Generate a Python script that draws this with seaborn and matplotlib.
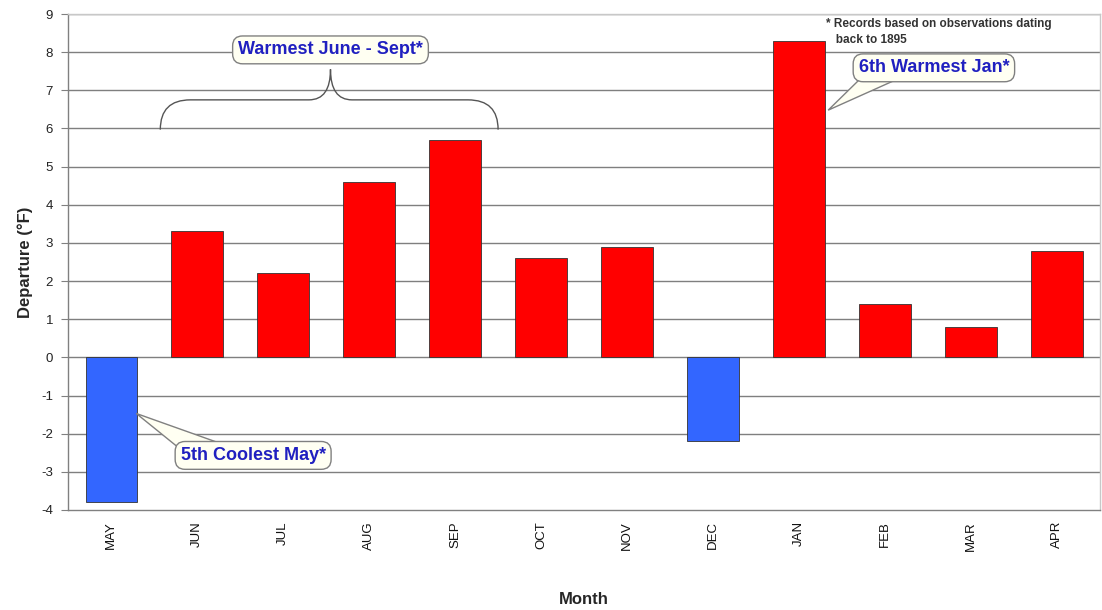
import numpy as np
import pandas as pd
import seaborn as sns
from matplotlib import pyplot as plt
from matplotlib.path import Path
from matplotlib.patches import PathPatch, Polygon

sns.set_style('white')
plt.rcParams['font.family'] = ['Liberation Sans', 'DejaVu Sans']

months = ['MAY', 'JUN', 'JUL', 'AUG', 'SEP', 'OCT', 'NOV', 'DEC', 'JAN', 'FEB', 'MAR', 'APR']
departure = [-3.8, 3.3, 2.2, 4.6, 5.7, 2.6, 2.9, -2.2, 8.3, 1.4, 0.8, 2.8]
yticks = list(range(-4, 10))

df = pd.DataFrame({'Month': months, 'Departure': departure})
barColors = {m: ('#FF0000' if v > 0 else '#3366FF') for m, v in zip(months, departure)}

fig = plt.figure(figsize=(11.02, 6.1), dpi=100)
ax = fig.add_axes([0.062, 0.164, 0.936, 0.813])

for y in yticks[1:]:
    ax.axhline(y, color='#7f7f7f', lw=1.0, zorder=0)

sns.barplot(data=df, x='Month', y='Departure', hue='Month', palette=barColors, saturation=1,
            legend=False, width=0.6, edgecolor='#333333', linewidth=0.6, ax=ax, zorder=2)

ax.set_xlim(-0.5, len(months) - 0.5)
ax.set_ylim(-4, 9)
ax.set_yticks(yticks)
ax.set_yticklabels([str(t) for t in yticks], fontsize=9.5, color='#222222')
ax.tick_params(axis='y', direction='out', length=5, width=0.8, color='#808080', left=True, pad=6)
ax.tick_params(axis='x', length=0, pad=8)
plt.setp(ax.get_xticklabels(), rotation=90, fontsize=9.5, color='#111111')

for side in ['left', 'bottom']:
    ax.spines[side].set_color('#808080')
    ax.spines[side].set_linewidth(1.0)
for side in ['top', 'right']:
    ax.spines[side].set_color('#c8c8c8')
    ax.spines[side].set_linewidth(1.0)

ax.set_ylabel('Departure (°F)', fontsize=12, fontweight='bold', labelpad=6)
ax.set_xlabel('Month', fontsize=12, fontweight='bold', labelpad=30)

# brace over Jun - Sep
x0, x1, xm, yb, yh, yp = 0.57, 4.5, 2.55, 5.97, 6.75, 7.55
verts = [(x0, yb), (x0, yh), (x0 + 0.35, yh), (xm - 0.25, yh),
         (xm, yh), (xm, yp),
         (xm, yh), (xm + 0.25, yh),
         (x1 - 0.35, yh), (x1, yh), (x1, yb)]
codes = [Path.MOVETO, Path.CURVE3, Path.CURVE3, Path.LINETO,
         Path.CURVE3, Path.CURVE3,
         Path.CURVE3, Path.CURVE3,
         Path.LINETO, Path.CURVE3, Path.CURVE3]
ax.add_patch(PathPatch(Path(verts, codes), fill=False, edgecolor='#555555', lw=1.0, zorder=3))

boxFill = '#FFFFF2'
boxStyle = dict(boxstyle='round,pad=0.3,rounding_size=0.55', fc=boxFill, ec='#808080', lw=1.0)
textStyle = dict(fontsize=13, fontweight='bold', color='#2020C0', ha='center', va='center', zorder=5)

ax.text(xm, 8.06, 'Warmest June - Sept*', bbox=boxStyle, **textStyle)

# callout wedges (drawn under the boxes)
ax.add_patch(Polygon([(8.78, 7.45), (8.34, 6.48), (9.3, 7.45)], closed=True,
                     fc=boxFill, ec='#808080', lw=1.0, zorder=4))
ax.text(9.57, 7.59, '6th Warmest Jan*', bbox=boxStyle, **textStyle)

ax.add_patch(Polygon([(0.8, -2.4), (0.29, -1.47), (1.45, -2.4)], closed=True,
                     fc=boxFill, ec='#808080', lw=1.0, zorder=4))
ax.text(1.65, -2.57, '5th Coolest May*', bbox=boxStyle, **textStyle)

ax.text(8.31, 8.52, '* Records based on observations dating\n   back to 1895', fontsize=8.5,
        fontweight='bold', color='#333333', ha='left', va='center', linespacing=1.45, zorder=5)

plt.savefig('out.png', dpi=100)
plt.close()
